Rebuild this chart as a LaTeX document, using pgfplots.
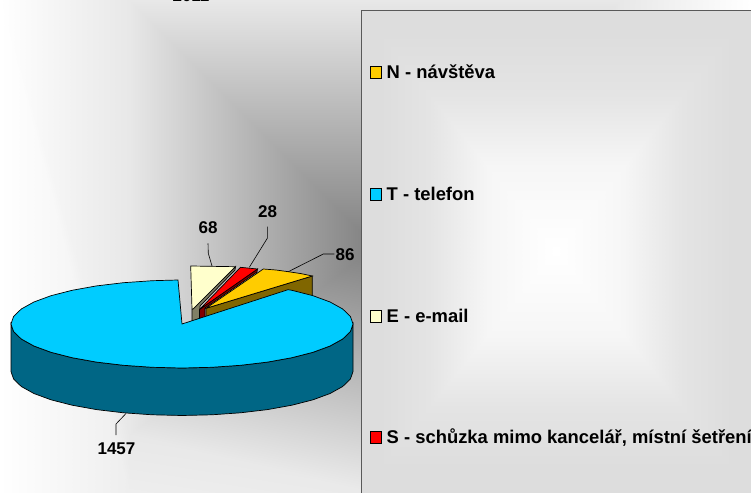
\documentclass[border=0pt]{standalone}
\usepackage{pgfplots}
\pgfplotsset{compat=1.18}
\usepackage{fontspec}
\setmainfont{Liberation Sans}
\definecolor{cblue}{HTML}{00CCFF}
\definecolor{cbluew}{HTML}{006685}
\definecolor{cyel}{HTML}{FFCC00}
\definecolor{cyelw}{HTML}{806600}
\definecolor{ccream}{HTML}{FFFFCC}
\definecolor{ccreamw}{HTML}{808066}
\definecolor{cred}{HTML}{FF0000}
\definecolor{credw}{HTML}{800000}
\definecolor{cleg}{gray}{0.867}
\newcommand{\lab}{\fontsize{17bp}{19bp}\selectfont\bfseries}
\newcommand{\legt}{\fontsize{18.4bp}{20bp}\selectfont\bfseries}
\begin{document}
\begin{tikzpicture}
\path[use as bounding box] (0,0) rectangle (751bp,493bp);
\begin{axis}[
  at={(0,0)},anchor=south west,
  width=751bp,height=493bp,scale only axis,
  xmin=0,xmax=751,ymin=0,ymax=493,y dir=reverse,
  hide axis,
  colormap={g}{gray(0)=(0); gray(1)=(1)},
  point meta min=0,point meta max=255,
]
% chart-area gradient
\addplot[patch,shader=interp,point meta=explicit] coordinates {
(375,246) [128] (129,0) [232] (621,0) [232]
(375,246) [128] (621,0) [232] (621,493) [236]
(375,246) [128] (621,493) [236] (375,493) [234]
(375,246) [128] (375,493) [234] (129,435) [232]
(375,246) [128] (129,435) [232] (129,0) [232]
(129,435) [232] (375,493) [234] (129,493) [238]
(0,0) [255] (129,0) [232] (129,435) [232]
(0,0) [255] (129,435) [232] (129,493) [238]
(0,0) [255] (129,493) [238] (0,493) [255]
(751,0) [255] (621,0) [232] (621,493) [236]
(751,0) [255] (621,493) [236] (751,493) [255]
};
% legend box
\addplot[fill=cleg,draw=none] coordinates {(361.5,10.5)(751,10.5)(751,493)(361.5,493)} --cycle;
\addplot[patch,shader=interp,point meta=explicit] coordinates {
(556,251) [255] (488,167) [246] (624,167) [246]
(556,251) [255] (624,167) [246] (624,335) [246]
(556,251) [255] (624,335) [246] (488,335) [246]
(556,251) [255] (488,335) [246] (488,167) [246]
(488,167) [246] (624,167) [246] (683,94) [228]
(488,167) [246] (683,94) [228] (429,94) [228]
(624,167) [246] (624,335) [246] (683,408) [228]
(624,167) [246] (683,408) [228] (683,94) [228]
(624,335) [246] (488,335) [246] (429,408) [228]
(624,335) [246] (429,408) [228] (683,408) [228]
(488,335) [246] (488,167) [246] (429,94) [228]
(488,335) [246] (429,94) [228] (429,408) [228]
(429,94) [228] (683,94) [228] (732,34) [221]
(429,94) [228] (732,34) [221] (380,34) [221]
(683,94) [228] (683,408) [228] (732,468) [221]
(683,94) [228] (732,468) [221] (732,34) [221]
(683,408) [228] (429,408) [228] (380,468) [221]
(683,408) [228] (380,468) [221] (732,468) [221]
(429,408) [228] (429,94) [228] (380,34) [221]
(429,408) [228] (380,34) [221] (380,468) [221]
};
\addplot[draw=black!65,line width=1.2bp] coordinates {(361.5,493)(361.5,10.5)(751,10.5)};
% legend keys
\addplot[fill=cyel,draw=black,line width=0.8bp] coordinates {(370.5,66.5)(381.5,66.5)(381.5,78)(370.5,78)} --cycle;
\addplot[fill=cblue,draw=black,line width=0.8bp] coordinates {(370.5,188.5)(381.5,188.5)(381.5,200)(370.5,200)} --cycle;
\addplot[fill=ccream,draw=black,line width=0.8bp] coordinates {(370.5,310.5)(381.5,310.5)(381.5,322)(370.5,322)} --cycle;
\addplot[fill=cred,draw=black,line width=0.8bp] coordinates {(370.5,431.5)(381.5,431.5)(381.5,443)(370.5,443)} --cycle;
% detached slices: E
\addplot[fill=ccreamw,draw=black,line width=0.7bp] coordinates {(235.5,266.7)(235,270)(200,306)(200,320)(192,322)(192,309.5)} --cycle;
\addplot[fill=ccream,draw=black,line width=0.7bp] coordinates {(190.7,266)(235.5,266.7)(193,309)(192,309)} --cycle;
% S
\addplot[fill=credw,draw=black,line width=0.7bp] coordinates {(257.5,269)(257,272)(205,308)(205,318)(199.5,320)(199.5,309.5)} --cycle;
\addplot[fill=cred,draw=black,line width=0.7bp] coordinates {(240.5,267.3)(257.5,269)(199.5,309.5)} --cycle;
% N
\addplot[fill=cyelw,draw=black,line width=0.7bp] coordinates {(312.3,276)(312.3,300)(288,292)(206,318)(206,308.3)} --cycle;
\addplot[fill=cyel,draw=black,line width=0.7bp] coordinates {(263.3,269)(276,270)(288.3,271.7)(301,273.6)(312.3,276)(206,308.3)} --cycle;
% T wall
\addplot[fill=cbluew,draw=black,line width=0.7bp] coordinates {
(11,324)(13.6,331.6)(21.3,339)(33.9,346)(51,352.3)(72.1,357.7)(96.5,362.1)(123.5,365.3)(152.3,367.3)(182,368)
(211.7,367.3)(240.5,365.3)(267.5,362.1)(291.9,357.7)(313,352.3)(330.1,346)(342.7,339)(350.4,331.6)(353,324)
(353,371.5)(350.4,379.1)(342.7,386.5)(330.1,393.5)(313,399.8)(291.9,405.2)(267.5,409.6)(240.5,412.8)(211.7,414.8)(182,415.5)
(152.3,414.8)(123.5,412.8)(96.5,409.6)(72.1,405.2)(51,399.8)(33.9,393.5)(21.3,386.5)(13.6,379.1)(11,371.5)
} --cycle;
% T top
\addplot[fill=cblue,draw=black,line width=0.7bp] coordinates {
(182,324)(178,280)(152.3,280.7)(123.5,282.7)(96.5,285.9)(72.1,290.3)(51,295.7)(33.9,302)(21.3,309)(13.6,316.4)(11,324)
(13.6,331.6)(21.3,339)(33.9,346)(51,352.3)(72.1,357.7)(96.5,362.1)(123.5,365.3)(152.3,367.3)(182,368)
(211.7,367.3)(240.5,365.3)(267.5,362.1)(291.9,357.7)(313,352.3)(330.1,346)(342.7,339)(350.4,331.6)(353,324)
(350.4,316.4)(342.7,309)(330.1,302)(313,295.7)(291.9,290.3)(288,289.7)
} --cycle;
% leaders
\addplot[black,line width=0.6bp] coordinates {(288.3,271.7)(323.3,254)(334.3,254)};
\addplot[black,line width=0.6bp] coordinates {(212,266)(208.3,253.3)(208,243.3)};
\addplot[black,line width=0.6bp] coordinates {(249.3,267.3)(267.3,238.3)(267.3,226.7)};
\addplot[black,line width=0.6bp] coordinates {(126,413.5)(116,424)(116,435)};
% labels
\node[font=\lab] at (axis cs:116.5,449) {1457};
\node[font=\lab] at (axis cs:208,228) {68};
\node[font=\lab] at (axis cs:267.5,212) {28};
\node[font=\lab] at (axis cs:345,255) {86};
\node[font=\lab,anchor=base] at (axis cs:191,2) {2011};
\node[font=\legt,anchor=west,inner sep=0pt] at (axis cs:386.5,72) {N - návštěva};
\node[font=\legt,anchor=west,inner sep=0pt] at (axis cs:386.5,194) {T - telefon};
\node[font=\legt,anchor=west,inner sep=0pt] at (axis cs:386.5,316) {E - e-mail};
\node[font=\legt,anchor=west,inner sep=0pt] at (axis cs:386.5,438) {S - schůzka mimo kancelář, místní šetření};
\end{axis}
\end{tikzpicture}
\end{document}
